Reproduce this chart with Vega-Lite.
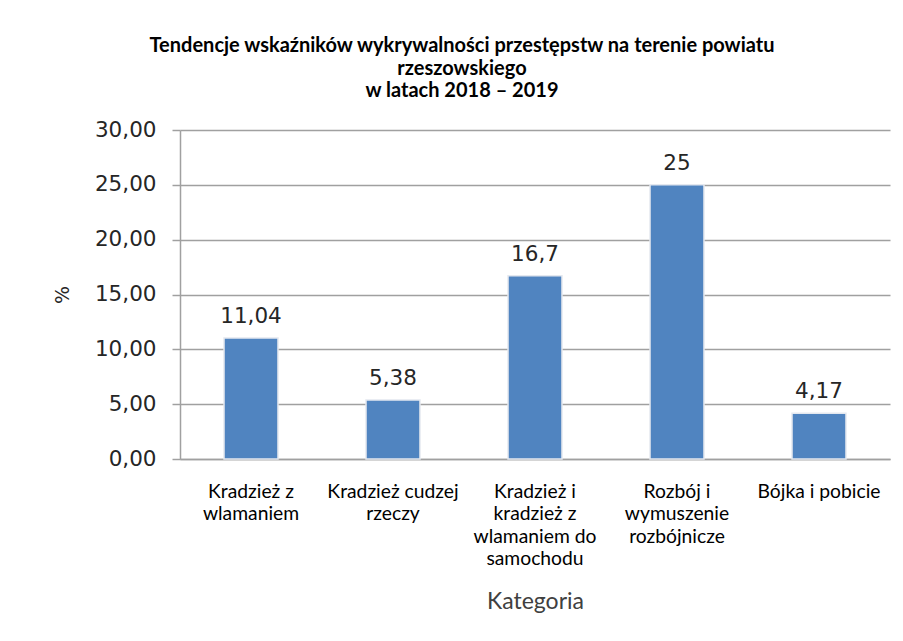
{
  "$schema": "https://vega.github.io/schema/vega-lite/v6.json",
  "width": 710,
  "height": 329,
  "autosize": "none",
  "padding": {"left": 180, "top": 130, "right": 13, "bottom": 182},
  "background": "white",
  "title": {
    "text": ["Tendencje wskaźników wykrywalności przestępstw na terenie powiatu", "rzeszowskiego", "w latach 2018 – 2019"],
    "font": "Lato",
    "fontSize": 20,
    "fontWeight": "bold",
    "color": "#000000",
    "lineHeight": 22.5,
    "anchor": "middle",
    "frame": "group",
    "dx": -73,
    "offset": 18
  },
  "config": {
    "locale": {"number": {"decimal": ",", "thousands": " ", "grouping": [3], "currency": ["", " zł"]}},
    "view": {"stroke": null}
  },
  "data": {
    "values": [
      {"kategoria": "Kradzież z wlamaniem", "wartosc": 11.04},
      {"kategoria": "Kradzież cudzej rzeczy", "wartosc": 5.38},
      {"kategoria": "Kradzież i kradzież z wlamaniem do samochodu", "wartosc": 16.7},
      {"kategoria": "Rozbój i wymuszenie rozbójnicze", "wartosc": 25},
      {"kategoria": "Bójka i pobicie", "wartosc": 4.17}
    ]
  },
  "encoding": {
    "x": {
      "field": "kategoria",
      "type": "nominal",
      "sort": null,
      "scale": {"paddingInner": 0.62, "paddingOuter": 0.31},
      "axis": {
        "title": "Kategoria",
        "titleFont": "Lato",
        "titleFontSize": 23,
        "titleFontWeight": "normal",
        "titleColor": "#404040",
        "titlePadding": 22,
        "labelAngle": 0,
        "labelFont": "Lato",
        "labelFontSize": 19.3,
        "labelColor": "#000000",
        "labelLineHeight": 22.5,
        "labelPadding": 23,
        "labelBaseline": "top",
        "labelLimit": 200,
        "ticks": false,
        "domainColor": "#a0a0a0",
        "domainWidth": 1.5,
        "labelExpr": "datum.value == 'Kradzież z wlamaniem' ? ['Kradzież z', 'wlamaniem'] : datum.value == 'Kradzież cudzej rzeczy' ? ['Kradzież cudzej', 'rzeczy'] : datum.value == 'Kradzież i kradzież z wlamaniem do samochodu' ? ['Kradzież i', 'kradzież z', 'wlamaniem do', 'samochodu'] : datum.value == 'Rozbój i wymuszenie rozbójnicze' ? ['Rozbój i', 'wymuszenie', 'rozbójnicze'] : datum.value"
      }
    },
    "y": {
      "field": "wartosc",
      "type": "quantitative",
      "scale": {"domain": [0, 30], "nice": false},
      "axis": {
        "title": "%",
        "titleFont": "DejaVu Sans",
        "titleFontSize": 19,
        "titleFontWeight": "normal",
        "titleColor": "#262626",
        "titlePadding": 22,
        "values": [0, 5, 10, 15, 20, 25, 30],
        "format": ".2f",
        "labelFont": "DejaVu Sans",
        "labelFontSize": 21.5,
        "labelColor": "#262626",
        "labelPadding": 16,
        "tickSize": 8,
        "tickColor": "#a0a0a0",
        "tickWidth": 1.5,
        "domainColor": "#a0a0a0",
        "domainWidth": 1.5,
        "gridColor": "#a0a0a0",
        "gridWidth": 1.5
      }
    }
  },
  "layer": [
    {
      "mark": {"type": "bar", "color": "#5084c0", "stroke": "#e4e8ef", "strokeWidth": 1.5}
    },
    {
      "mark": {"type": "text", "font": "DejaVu Sans", "fontSize": 21.5, "color": "#262626", "baseline": "alphabetic", "dy": -15},
      "encoding": {
        "text": {"field": "wartosc", "type": "quantitative", "format": "~g"}
      }
    }
  ]
}
